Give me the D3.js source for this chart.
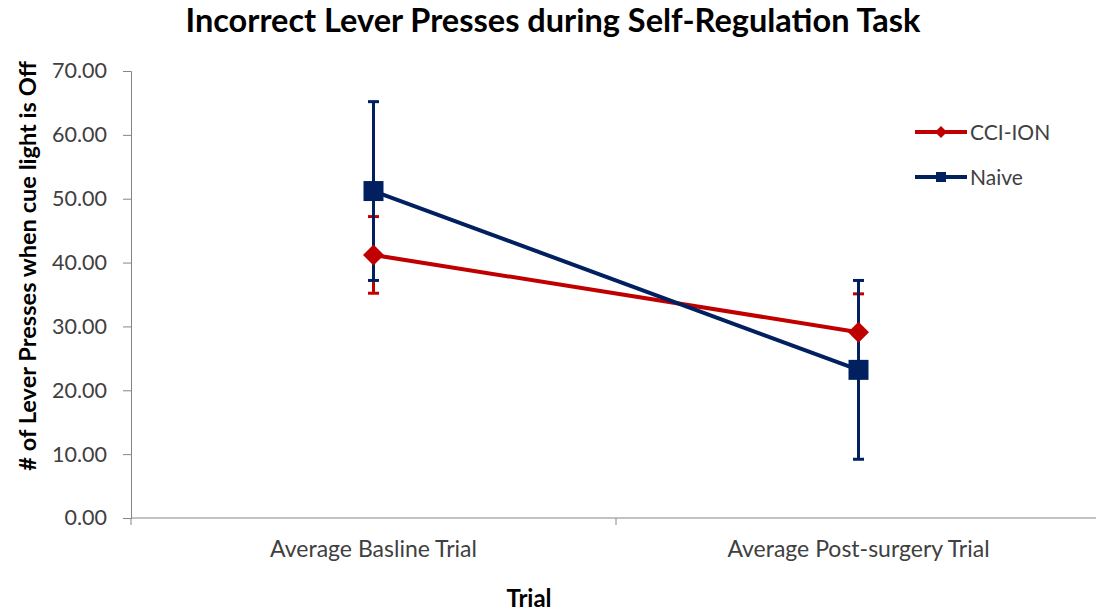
<!DOCTYPE html>
<html><head><meta charset="utf-8">
<script src="https://cdn.jsdelivr.net/npm/d3@7/dist/d3.min.js"></script>
<style>body{margin:0;background:#fff}svg{display:block}text{font-family:Lato,"Open Sans",sans-serif}</style>
</head><body><svg id="c" width="1096" height="615"></svg>
<script>
const categories = ["Average Basline Trial", "Average Post-surgery Trial"];
const seriesNames = ["CCI-ION", "Naive"];
const cciValues = [41.2, 29.1];
const cciErrors = [6.0, 6.0];
const naiveValues = [51.2, 23.2];
const naiveErrors = [14.0, 14.0];
const yTicks = [0, 10, 20, 30, 40, 50, 60, 70];
const colors = ["#C00000", "#002060"];

(function(){
const svg = d3.select("#c");
const L = 131, R = 1101, T = 71, B = 518;
const x = d3.scaleBand().domain(categories).range([L, R]).padding(0);
const y = d3.scaleLinear().domain([0, 70]).range([B, T]);
const axisColor = "#868686";
const txt = "#404040";

// y axis
const ya = svg.append("g").attr("transform", `translate(${L},0)`)
  .call(d3.axisLeft(y).tickValues(yTicks).tickFormat(d3.format(".2f")).tickSizeOuter(0).tickSize(8).tickPadding(16));
ya.select(".domain").attr("stroke", axisColor);
ya.selectAll(".tick line").attr("stroke", axisColor);
ya.selectAll(".tick text").attr("font-size", 21.5).attr("fill", txt).attr("font-family", "Lato, sans-serif");

// x axis
const xa = svg.append("g").attr("transform", `translate(0,${B})`);
xa.append("line").attr("x1", L).attr("x2", R).attr("stroke", axisColor);
const xTickPos = [L, L + x.bandwidth(), R];
xa.selectAll("line.t").data(xTickPos).enter().append("line").attr("class","t")
  .attr("x1", d => d).attr("x2", d => d).attr("y1", 0).attr("y2", 7).attr("stroke", axisColor);
xa.selectAll("text").data(categories).enter().append("text")
  .attr("x", d => x(d) + x.bandwidth()/2).attr("y", 39)
  .attr("text-anchor", "middle").attr("font-size", 23).attr("fill", txt).text(d => d);

// titles
svg.append("text").attr("x", 553).attr("y", 32).attr("text-anchor", "middle")
  .attr("font-size", 32.5).attr("font-weight", "bold").attr("fill", "#000").text("Incorrect Lever Presses during Self-Regulation Task");
svg.append("text").attr("x", 529).attr("y", 607).attr("text-anchor", "middle")
  .attr("font-size", 24).attr("font-weight", "bold").text("Trial");
svg.append("text").attr("transform", "translate(36,266) rotate(-90)").attr("text-anchor", "middle")
  .attr("font-size", 23.6).attr("font-weight", "bold").text("# of Lever Presses when cue light is Off");

const series = [
  {name: seriesNames[0], vals: cciValues, errs: cciErrors, color: colors[0], marker: "diamond"},
  {name: seriesNames[1], vals: naiveValues, errs: naiveErrors, color: colors[1], marker: "square"}
];
const cx = c => x(c) + x.bandwidth()/2;
const line = d3.line().x(d => cx(d.c)).y(d => y(d.v));

series.forEach(s => {
  const g = svg.append("g");
  categories.forEach((c, i) => {
    const hi = s.vals[i] + s.errs[i], lo = s.vals[i] - s.errs[i];
    g.append("line").attr("x1", cx(c)).attr("x2", cx(c)).attr("y1", y(hi)).attr("y2", y(lo))
      .attr("stroke", s.color).attr("stroke-width", 3);
    [hi, lo].forEach(v => g.append("line").attr("x1", cx(c)-5.5).attr("x2", cx(c)+5.5)
      .attr("y1", y(v)).attr("y2", y(v)).attr("stroke", s.color).attr("stroke-width", 3));
  });
});

function markerPath(type, big) {
  if (type === "square") return d3.symbol().type(d3.symbolSquare).size(big ? 400 : 100)();
  return d3.symbol().type(d3.symbolSquare).size(big ? 220 : 72)();
}
function markerRot(type) { return type === "square" ? "" : " rotate(45)"; }

series.forEach(s => {
  const pts = categories.map((c, i) => ({c, v: s.vals[i]}));
  svg.append("path").attr("d", line(pts)).attr("fill", "none").attr("stroke", s.color).attr("stroke-width", 4);
  svg.selectAll(null).data(pts).enter().append("path")
    .attr("d", markerPath(s.marker, true))
    .attr("transform", d => `translate(${cx(d.c)},${y(d.v)})` + markerRot(s.marker))
    .attr("fill", s.color);
});

series.forEach((s, i) => {
  const ly = 132 + i * 45;
  const g = svg.append("g");
  g.append("line").attr("x1", 915).attr("x2", 967).attr("y1", ly).attr("y2", ly).attr("stroke", s.color).attr("stroke-width", 4);
  g.append("path").attr("d", markerPath(s.marker, false))
    .attr("transform", `translate(941,${ly})` + markerRot(s.marker)).attr("fill", s.color);
  g.append("text").attr("x", 970).attr("y", ly + 7.5).attr("font-size", 21).attr("fill", txt).text(s.name);
});
})();
</script></body></html>
